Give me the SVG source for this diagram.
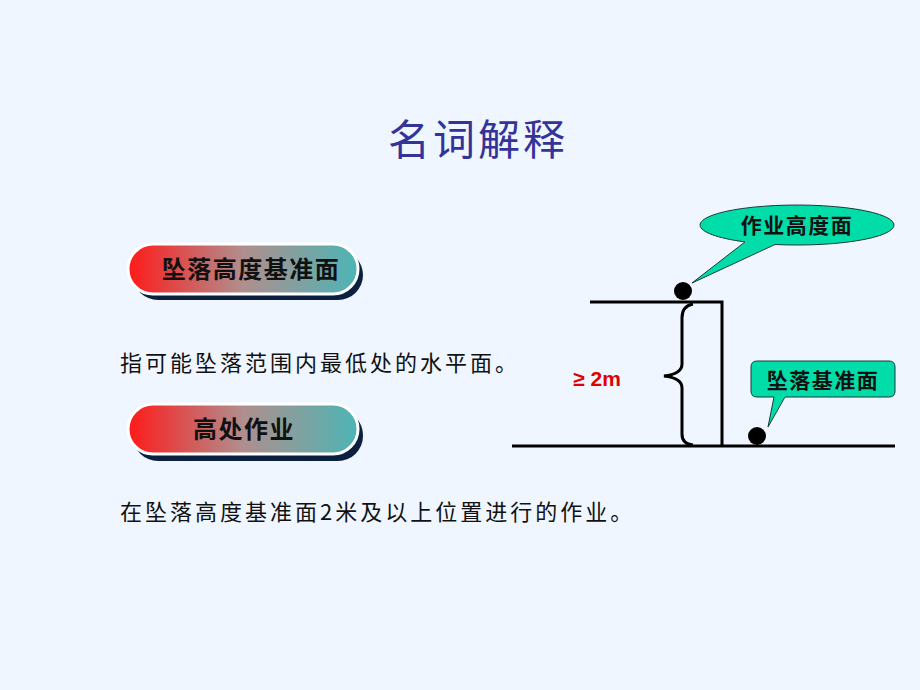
<svg xmlns="http://www.w3.org/2000/svg" width="920" height="690" viewBox="0 0 920 690">
<defs>
<linearGradient id="pillGrad" x1="0" y1="0" x2="1" y2="0">
<stop offset="0" stop-color="#FF1A1A"/>
<stop offset="0.5" stop-color="#B08E8E"/>
<stop offset="1" stop-color="#4DB5B5"/>
</linearGradient>
<style>
.cjk{font-family:"Noto Sans CJK SC","Noto Sans",sans-serif;}
.body{font-size:22px;fill:#111;letter-spacing:3px;}
.pilltxt{font-size:24px;font-weight:bold;fill:#111;text-anchor:middle;letter-spacing:1.5px;}
.calltxt{font-size:21px;font-weight:bold;fill:#111;text-anchor:middle;letter-spacing:1.5px;}
.shadow{fill:#0B1F3F;}
.pill{fill:url(#pillGrad);stroke:#FFFFFF;stroke-width:3;}
.line{stroke:#000;stroke-width:3;fill:none;}
.callout{fill:#00DDA8;stroke:#1A3A3A;stroke-width:1;}
</style>
</defs>
<rect width="920" height="690" fill="#EFF6FF"/>
<g id="title">
<text class="cjk" x="478" y="155" font-size="42" fill="#333399" text-anchor="middle" letter-spacing="3">名词解释</text>
</g>
<g id="pill1">
<rect class="shadow" x="133" y="250" width="230" height="50" rx="25"/>
<rect class="pill" x="128" y="244" width="230" height="50" rx="25"/>
<text class="cjk pilltxt" x="251" y="278">坠落高度基准面</text>
</g>
<g id="def1">
<text class="cjk body" x="120" y="371">指可能坠落范围内最低处的水平面。</text>
</g>
<g id="pill2">
<rect class="shadow" x="133" y="410" width="230" height="51" rx="25"/>
<rect class="pill" x="128" y="404" width="230" height="50" rx="25"/>
<text class="cjk pilltxt" x="244" y="438">高处作业</text>
</g>
<g id="def2">
<text class="cjk body" x="120" y="520">在坠落高度基准面2米及以上位置进行的作业。</text>
</g>
<g id="connectors">
<polyline class="line" points="590,302 722,302 722,446"/>
<line class="line" x1="512" y1="446" x2="895" y2="446"/>
<path class="line" d="M693,304 Q682,306 682,318 L682,364 Q682,374 664,376 Q682,378 682,388 L682,434 Q682,444 693,445"/>
</g>
<g id="height-label">
<text x="597" y="386" font-family="Liberation Sans,Arial,sans-serif" font-size="21" font-weight="bold" fill="#E00000" text-anchor="middle">≥ 2m</text>
</g>
<g id="dot-top">
<circle cx="683" cy="291" r="9" fill="#000"/>
</g>
<g id="dot-bottom">
<circle cx="757" cy="436" r="9" fill="#000"/>
</g>
<g id="callout-work">
<path class="callout" d="M745,241.9 A97,20 0 1 1 775,244.5 L692,283 Z"/>
<text class="cjk calltxt" x="797" y="233">作业高度面</text>
</g>
<g id="callout-base">
<path class="callout" d="M757,361 L889,361 Q895,361 895,367 L895,391 Q895,397 889,397 L785,397 L768,427 L774,397 L757,397 Q751,397 751,391 L751,367 Q751,361 757,361 Z"/>
<text class="cjk calltxt" x="823" y="388">坠落基准面</text>
</g>
</svg>
